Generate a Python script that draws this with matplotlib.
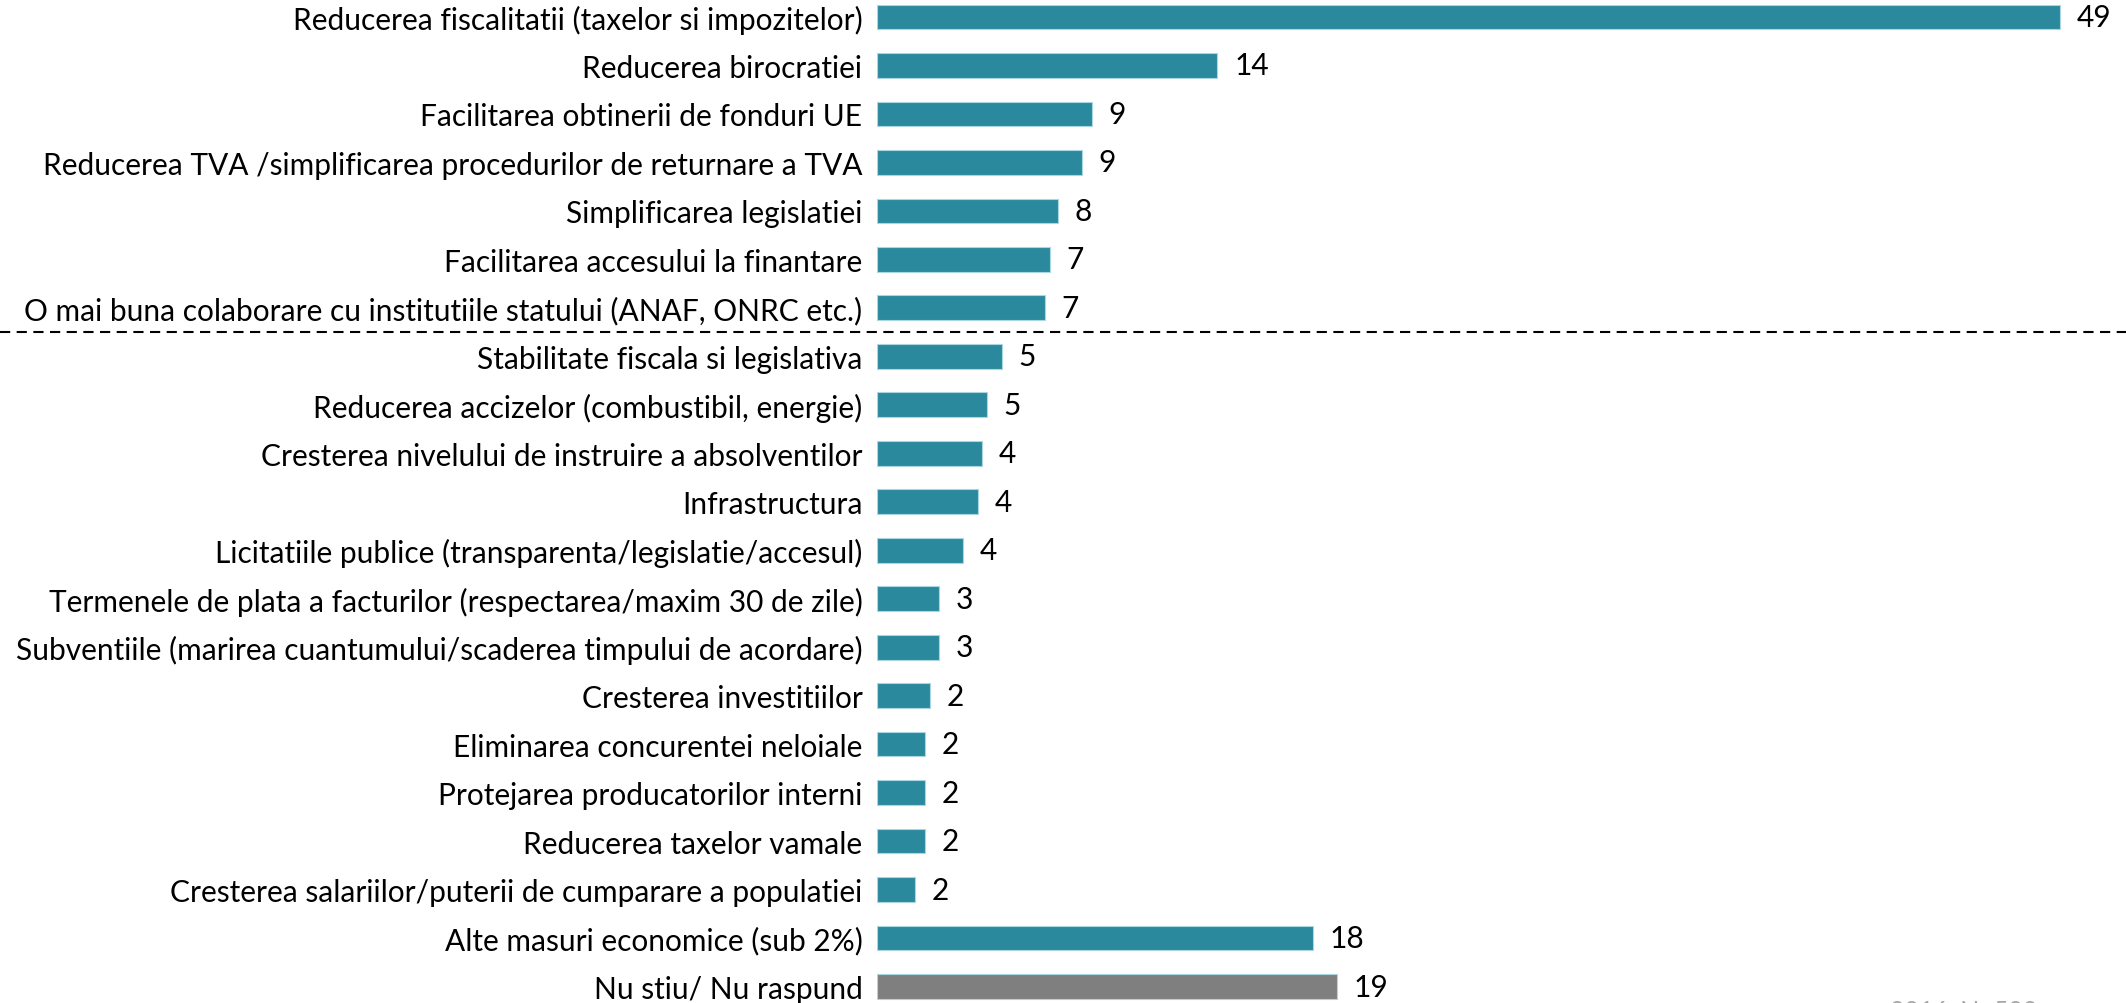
import matplotlib
matplotlib.use('Agg')
import matplotlib.pyplot as plt
import matplotlib.transforms as mtransforms

# Measures asked for (share of answers, %), top to bottom
categories = [
    'Reducerea fiscalitatii (taxelor si impozitelor)',
    'Reducerea birocratiei',
    'Facilitarea obtinerii de fonduri UE',
    'Reducerea TVA /simplificarea procedurilor de returnare a TVA',
    'Simplificarea legislatiei',
    'Facilitarea accesului la finantare',
    'O mai buna colaborare cu institutiile statului (ANAF, ONRC etc.)',
    'Stabilitate fiscala si legislativa',
    'Reducerea accizelor (combustibil, energie)',
    'Cresterea nivelului de instruire a absolventilor',
    'Infrastructura',
    'Licitatiile publice (transparenta/legislatie/accesul)',
    'Termenele de plata a facturilor (respectarea/maxim 30 de zile)',
    'Subventiile (marirea cuantumului/scaderea timpului de acordare)',
    'Cresterea investitiilor',
    'Eliminarea concurentei neloiale',
    'Protejarea producatorilor interni',
    'Reducerea taxelor vamale',
    'Cresterea salariilor/puterii de cumparare a populatiei',
    'Alte masuri economice (sub 2%)',
    'Nu stiu/ Nu raspund',
]
values = [49.0, 14.1, 8.9, 8.5, 7.5, 7.15, 6.95,
          5.17, 4.56, 4.37, 4.17, 3.57, 2.58, 2.58,
          2.19, 1.98, 1.98, 1.98, 1.59, 18.07, 19.05]
labels = ['49', '14', '9', '9', '8', '7', '7',
          '5', '5', '4', '4', '4', '3', '3',
          '2', '2', '2', '2', '2', '18', '19']
top_group = 7      # items above the dashed separator
footnote = '2016, N=500'

TEAL = '#2B899D'
GREY = '#7F7F7F'

plt.rcParams['font.family'] = ['Lato', 'DejaVu Sans']

fig = plt.figure(figsize=(21.26, 10.04), dpi=100)
ax = fig.add_axes([877 / 2126, 0.0, 1 - 877 / 2126, 1.0])

ypos = list(range(len(categories)))
colors = [TEAL] * (len(categories) - 1) + [GREY]
ax.barh(ypos, values, height=0.51, color=colors,
        edgecolor='#A9D6E0', linewidth=0.8)

for y, v, lab in zip(ypos, values, labels):
    ax.annotate(lab, xy=(v, y), xytext=(12, 0), textcoords='offset points',
                ha='left', va='center', fontsize=21.5, color='black')

ax.set_xlim(0, 51.74)
ax.set_ylim(20.34, -0.371)
ax.set_yticks(ypos)
ax.set_yticklabels(categories, fontsize=21.5)
ax.tick_params(axis='y', length=0, pad=10.5)
ax.set_xticks([])
for s in ax.spines.values():
    s.set_visible(False)

# dashed separator across the whole figure width
trans = mtransforms.blended_transform_factory(fig.transFigure, ax.transData)
sep = top_group - 0.5
ax.plot([0, 1], [sep, sep], transform=trans, color='black', lw=1.5,
        dashes=(4.9, 3.1), clip_on=False)

# footnote sits at the very bottom edge, mostly cut off as in the source
fig.text(1890 / 2126, 1 - 1000 / 1004, footnote, ha='left', va='top',
         fontsize=18, color='#A6A6A6')

fig.savefig('out.png', dpi=100, facecolor='white')
